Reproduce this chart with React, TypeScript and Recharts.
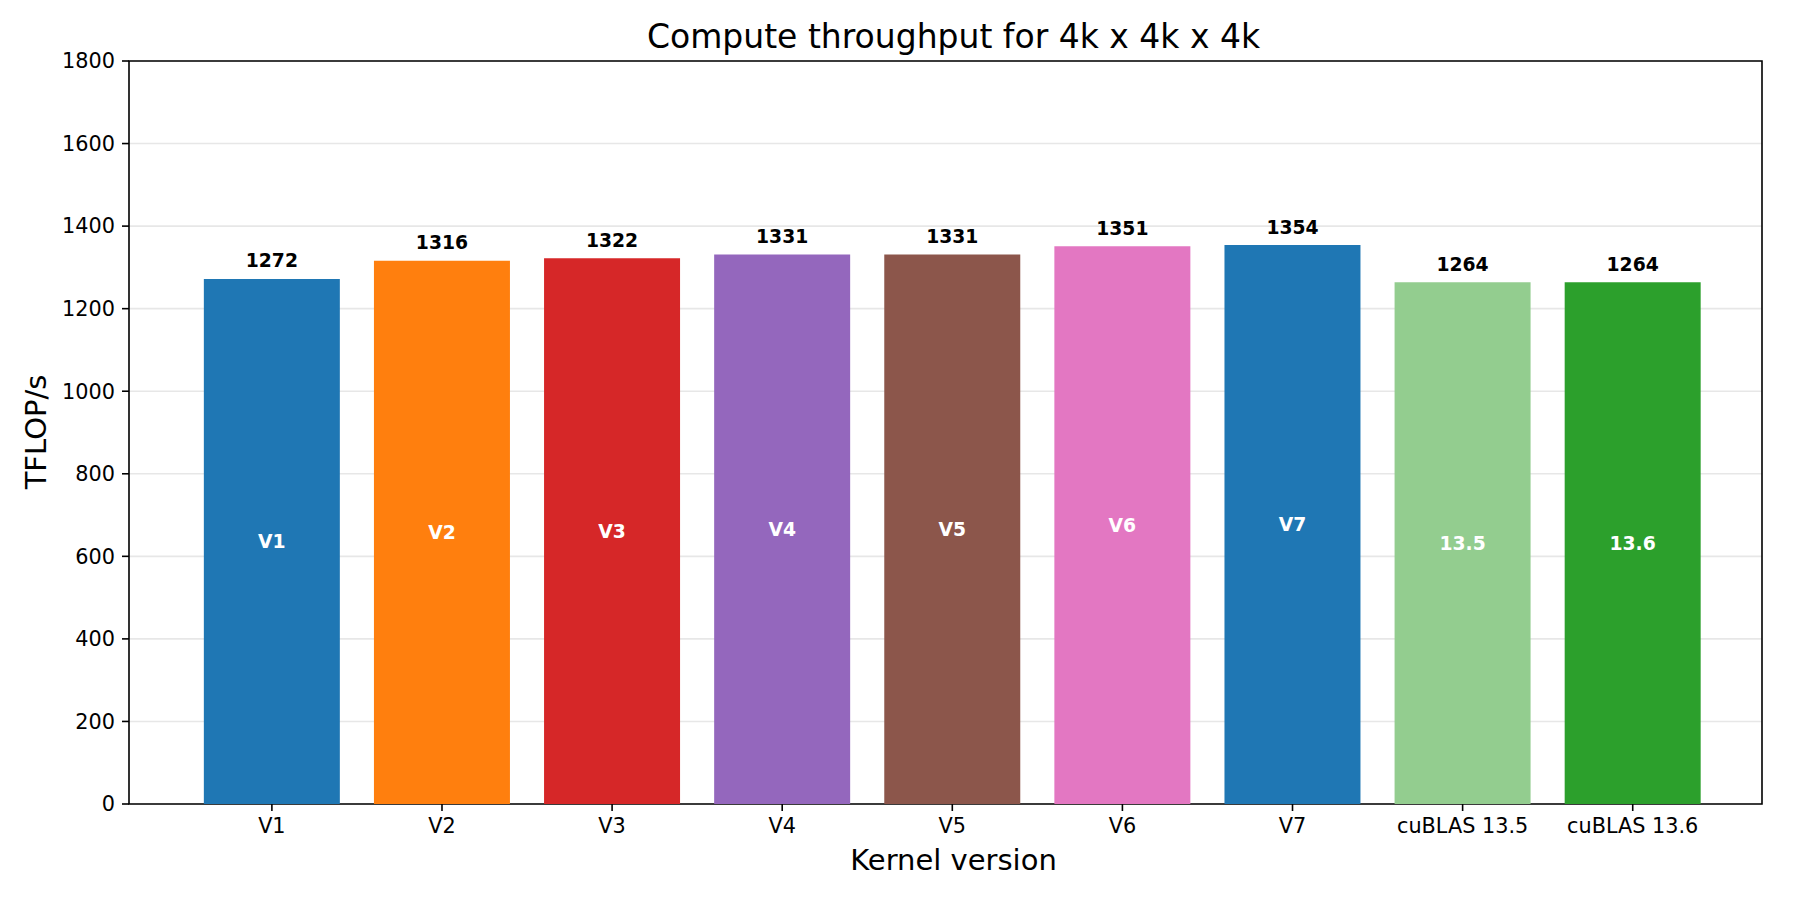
import React from 'react';
import { BarChart, Bar, Cell, XAxis, YAxis, CartesianGrid, LabelList, ReferenceArea } from 'recharts';

const categories = ['V1', 'V2', 'V3', 'V4', 'V5', 'V6', 'V7', 'cuBLAS 13.5', 'cuBLAS 13.6'];
const throughput = [1272, 1316, 1322, 1331, 1331, 1351, 1354, 1264, 1264];
const innerLabels = ['V1', 'V2', 'V3', 'V4', 'V5', 'V6', 'V7', '13.5', '13.6'];
const barColors = ['#1f77b4', '#ff7f0e', '#d62728', '#9467bd', '#8c564b', '#e377c2', '#1f77b4', '#93cd8f', '#2ca02c'];
const yTicks = [0, 200, 400, 600, 800, 1000, 1200, 1400, 1600, 1800];

const data = categories.map((name, i) => ({
  idx: i,
  name,
  value: throughput[i],
  inner: innerLabels[i]
}));
const xTicks = data.map((d) => d.idx);

const FONT = '"DejaVu Sans", sans-serif';
const X_MIN = -0.84;
const X_MAX = 8.76;

if (typeof document !== 'undefined') document.body.style.margin = '0';

const App: React.FC = () => {
  return (
    <div style={{ position: 'relative', width: 1800, height: 900, fontFamily: FONT, background: '#fff' }}>
      <BarChart
        width={1800}
        height={900}
        data={data}
        margin={{ top: 61, right: 38, left: 0, bottom: 0 }}
        barCategoryGap="10%"
      >
        <XAxis
          dataKey="idx"
          type="number"
          domain={[X_MIN, X_MAX]}
          allowDataOverflow
          ticks={xTicks}
          interval={0}
          tickFormatter={(v: number) => categories[v] ?? ''}
          height={96}
          axisLine={false}
          tickSize={7}
          tickMargin={7}
          tickLine={{ stroke: '#000', strokeWidth: 1.6 }}
          tick={{ fill: '#000', fontSize: 20.8, fontFamily: FONT }}
        />
        <YAxis
          type="number"
          domain={[0, 1800]}
          ticks={yTicks}
          interval={0}
          width={129}
          axisLine={false}
          tickSize={7}
          tickMargin={7}
          tickLine={{ stroke: '#000', strokeWidth: 1.6 }}
          tick={{ fill: '#000', fontSize: 20.8, fontFamily: FONT }}
        />
        <Bar dataKey="value" isAnimationActive={false}>
          {data.map((d, i) => (
            <Cell key={d.name} fill={barColors[i]} />
          ))}
          <LabelList
            dataKey="value"
            position="top"
            offset={11.5}
            fill="#000"
            style={{ fontWeight: 'bold', fontSize: 18.75, fontFamily: FONT }}
          />
          <LabelList
            dataKey="inner"
            position="center"
            fill="#fff"
            style={{ fontWeight: 'bold', fontSize: 18.75, fontFamily: FONT }}
          />
        </Bar>
        <CartesianGrid vertical={false} stroke="#b0b0b0" strokeOpacity={0.3} strokeWidth={1.6} />
        <ReferenceArea
          x1={X_MIN}
          x2={X_MAX}
          y1={0}
          y2={1800}
          fill="none"
          fillOpacity={0}
          stroke="#000"
          strokeOpacity={1}
          strokeWidth={1.6}
          ifOverflow="visible"
        />
      </BarChart>
      <div
        style={{
          position: 'absolute',
          left: 137,
          width: 1633,
          top: 15,
          height: 44,
          lineHeight: '44px',
          textAlign: 'center',
          fontSize: 33,
          color: '#000'
        }}
      >
        Compute throughput for 4k x 4k x 4k
      </div>
      <div
        style={{
          position: 'absolute',
          left: 137,
          width: 1633,
          top: 840,
          height: 40,
          lineHeight: '40px',
          textAlign: 'center',
          fontSize: 29,
          color: '#000'
        }}
      >
        Kernel version
      </div>
      <div
        style={{
          position: 'absolute',
          left: 36 - 100,
          top: 432 - 20,
          width: 200,
          height: 40,
          lineHeight: '40px',
          textAlign: 'center',
          fontSize: 29,
          color: '#000',
          transform: 'rotate(-90deg)'
        }}
      >
        TFLOP/s
      </div>
    </div>
  );
};

export default App;
